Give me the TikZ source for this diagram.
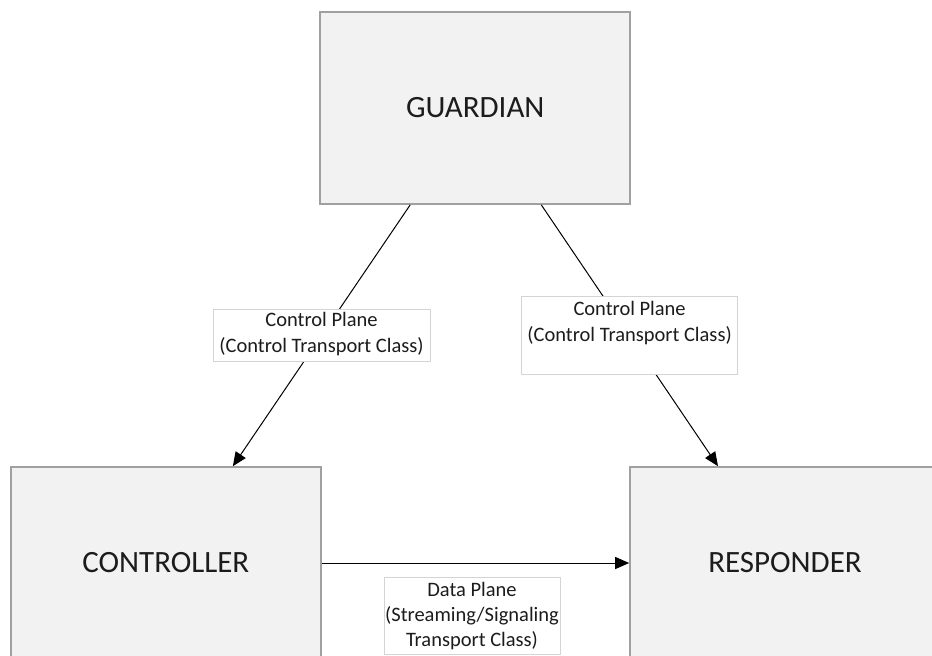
\documentclass[tikz,border=0pt]{standalone}
\usepackage{fontspec}
\setmainfont{Carlito}
\usetikzlibrary{arrows.meta}
\definecolor{boxfill}{HTML}{F2F2F2}
\definecolor{boxline}{HTML}{A0A0A0}
\definecolor{lblline}{HTML}{D4D4D4}
\definecolor{txt}{HTML}{1C1C1C}
\tikzset{
  bigbox/.style={draw=boxline, line width=1.6pt, fill=boxfill, minimum width=310pt,
    minimum height=192pt, inner sep=0pt, text=txt, font=\fontsize{31}{36}\selectfont},
  lbl/.style={draw=lblline, line width=0.8pt, fill=white, inner sep=0pt, align=center,
    text=txt, font=\fontsize{20.5}{26}\selectfont},
  conn/.style={draw=black, line width=1pt, -{Triangle[length=14pt,width=12pt]}}
}
\begin{document}
\begin{tikzpicture}[x=1pt,y=-1pt]
\path[use as bounding box, clip] (0,0) rectangle (932,656);
\fill[white] (0,0) rectangle (932,656);
\node[bigbox] (guardian) at (475.25,108) {GUARDIAN};
\node[bigbox] (controller) at (165.85,563) {CONTROLLER};
\node[bigbox] (responder) at (785,563) {RESPONDER};
\draw[conn] ([xshift=-65pt]guardian.south) -- ([xshift=67pt]controller.north)
  node[lbl, midway, minimum width=217pt, minimum height=52pt] (lblA) {Control Plane\\(Control Transport Class)\rule[-6pt]{0pt}{0pt}};
\draw[conn] ([xshift=66pt]guardian.south) -- ([xshift=-67pt]responder.north)
  node[lbl, midway, minimum width=216pt, minimum height=78pt] (lblB) {Control Plane\\(Control Transport Class)\rule[-29pt]{0pt}{0pt}};
\draw[conn] (controller.east) -- (responder.west);
\node[lbl, minimum width=176pt, minimum height=77pt, font=\fontsize{20.5}{25}\selectfont] (lblC) at (472,616) {Data Plane\\(Streaming/Signaling\\Transport Class)};
\end{tikzpicture}
\end{document}
